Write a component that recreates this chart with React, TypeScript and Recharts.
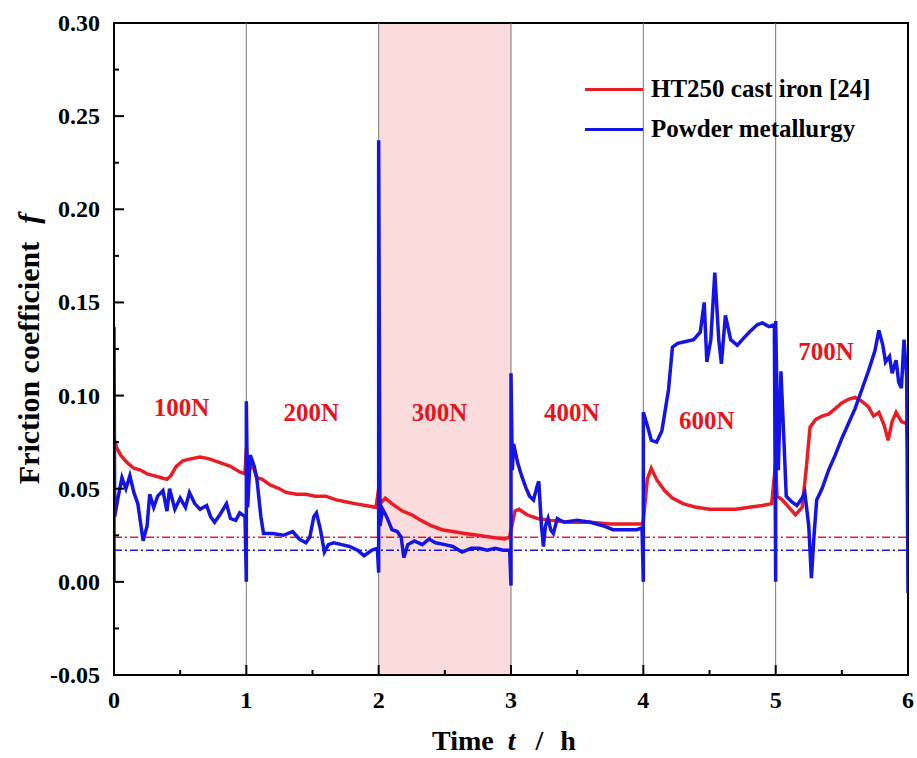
import React from 'react';
import {
  LineChart,
  Line,
  XAxis,
  YAxis,
  ReferenceLine,
  ReferenceArea,
  ReferenceDot,
  Legend,
} from 'recharts';

const SERIF = '"Liberation Serif", "Times New Roman", serif';
const RED = '#ec1c24';
const BLUE = '#1414e6';

// HT250 cast iron [24]
const redTime = [
  0, 0.02, 0.05, 0.1, 0.15, 0.2, 0.25, 0.3, 0.35, 0.4, 0.43, 0.47, 0.52, 0.58, 0.65, 0.72, 0.8, 0.88, 0.95, 0.99,
  1.0, 1.01, 1.05, 1.08, 1.12, 1.18, 1.25, 1.3, 1.38, 1.45, 1.52, 1.6, 1.68, 1.75, 1.82, 1.9, 1.98,
  2.0, 2.01, 2.05, 2.1, 2.18, 2.25, 2.32, 2.4, 2.48, 2.56, 2.65, 2.75, 2.85, 2.95, 2.99,
  3.0, 3.03, 3.06, 3.12, 3.2, 3.3, 3.45, 3.6, 3.75, 3.9, 3.99,
  4.0, 4.03, 4.06, 4.1, 4.16, 4.22, 4.3, 4.4, 4.5, 4.6, 4.7, 4.8, 4.9, 4.97,
  5.0, 5.01, 5.05, 5.1, 5.15, 5.2, 5.23, 5.26, 5.3, 5.35, 5.4, 5.45, 5.5, 5.55, 5.6, 5.65, 5.7, 5.74, 5.78,
  5.82, 5.85, 5.88, 5.91, 5.95, 5.99, 6.0,
];
const redF = [
  0.077, 0.072, 0.068, 0.064, 0.061, 0.06, 0.058, 0.057, 0.056, 0.055, 0.057, 0.062, 0.065, 0.066, 0.067, 0.066, 0.064, 0.062, 0.059, 0.058,
  0.072, 0.06, 0.062, 0.056, 0.055, 0.052, 0.05, 0.048, 0.047, 0.047, 0.046, 0.046, 0.044, 0.043, 0.042, 0.041, 0.04,
  0.05, 0.042, 0.045, 0.042, 0.038, 0.036, 0.033, 0.03, 0.028, 0.027, 0.026, 0.025, 0.024, 0.023, 0.024,
  0.028, 0.038, 0.039, 0.036, 0.034, 0.033, 0.032, 0.032, 0.031, 0.031, 0.031,
  0.033, 0.055, 0.061, 0.055, 0.049, 0.045, 0.042, 0.04, 0.039, 0.039, 0.039, 0.04, 0.041, 0.042,
  0.064, 0.046, 0.044, 0.04, 0.036, 0.04, 0.06, 0.083, 0.087, 0.089, 0.09, 0.093, 0.096, 0.098, 0.099, 0.097, 0.094, 0.089, 0.091,
  0.084, 0.076, 0.086, 0.091, 0.086, 0.085, 0.07,
];

// Powder metallurgy
const blueTime = [
  0, 0, 0.005, 0.03, 0.06, 0.09, 0.12, 0.15, 0.18, 0.22, 0.25, 0.27, 0.3, 0.33, 0.37, 0.4, 0.42, 0.46, 0.5, 0.54,
  0.57, 0.61, 0.65, 0.7, 0.73, 0.76, 0.8, 0.85, 0.88, 0.92, 0.95, 0.99,
  1.0, 1.0, 1.01, 1.03, 1.06, 1.08, 1.11, 1.13, 1.2, 1.28, 1.35, 1.4, 1.45, 1.48, 1.51, 1.53, 1.56, 1.59, 1.62,
  1.66, 1.72, 1.78, 1.84, 1.89, 1.95, 1.99,
  2.0, 2.0, 2.01, 2.03, 2.06, 2.1, 2.14, 2.17, 2.19, 2.22, 2.27, 2.33, 2.38, 2.43, 2.5, 2.56, 2.63, 2.7, 2.76,
  2.82, 2.88, 2.94, 2.99,
  3.0, 3.0, 3.01, 3.02, 3.05, 3.08, 3.11, 3.14, 3.17, 3.2, 3.21, 3.23, 3.245, 3.26, 3.28, 3.3, 3.32, 3.35, 3.4,
  3.5, 3.6, 3.7, 3.77, 3.85, 3.95, 3.99,
  4.0, 4.0, 4.03, 4.06, 4.1, 4.14, 4.19, 4.22, 4.26, 4.32, 4.38, 4.43, 4.46, 4.48, 4.51, 4.54, 4.57, 4.59, 4.62,
  4.66, 4.71, 4.76, 4.8, 4.86, 4.9, 4.95, 4.99,
  5.0, 5.0, 5.02, 5.04, 5.06, 5.08, 5.12, 5.16, 5.2, 5.22, 5.25, 5.27, 5.29, 5.31, 5.35, 5.4, 5.45, 5.5, 5.55,
  5.6, 5.65, 5.7, 5.75, 5.78, 5.81, 5.83, 5.86, 5.88, 5.91, 5.93, 5.95, 5.97, 5.99, 6.0,
];
const blueF = [
  0.0, 0.137, 0.035, 0.045, 0.056, 0.05, 0.057, 0.048, 0.042, 0.022, 0.03, 0.047, 0.04, 0.046, 0.049, 0.038, 0.05, 0.039, 0.045, 0.04,
  0.048, 0.042, 0.039, 0.041, 0.035, 0.032, 0.036, 0.042, 0.034, 0.033, 0.037, 0.035,
  0.0, 0.097, 0.04, 0.068, 0.062, 0.055, 0.035, 0.026, 0.026, 0.025, 0.027, 0.023, 0.021, 0.024, 0.035, 0.037, 0.028, 0.016, 0.02,
  0.021, 0.02, 0.019, 0.017, 0.014, 0.017, 0.018,
  0.005, 0.237, 0.03, 0.039, 0.035, 0.028, 0.027, 0.024, 0.013, 0.02, 0.022, 0.02, 0.023, 0.021, 0.02, 0.019, 0.016, 0.018, 0.018,
  0.017, 0.018, 0.017, 0.017,
  -0.002, 0.112, 0.06, 0.074, 0.064, 0.057, 0.051, 0.046, 0.044, 0.052, 0.054, 0.03, 0.019, 0.03, 0.034, 0.028, 0.026, 0.034, 0.032,
  0.033, 0.032, 0.03, 0.028, 0.028, 0.028, 0.029,
  0.0, 0.091, 0.084, 0.076, 0.075, 0.081, 0.103, 0.126, 0.128, 0.129, 0.13, 0.134, 0.15, 0.118, 0.13, 0.166, 0.13, 0.117, 0.143,
  0.13, 0.127, 0.131, 0.134, 0.138, 0.139, 0.137, 0.138,
  0.0, 0.14, 0.06, 0.113, 0.08, 0.046, 0.043, 0.041, 0.045, 0.048, 0.03, 0.002, 0.025, 0.044, 0.05, 0.06, 0.068, 0.077, 0.085,
  0.093, 0.103, 0.113, 0.124, 0.135, 0.127, 0.118, 0.121, 0.112, 0.119, 0.107, 0.104, 0.13, 0.11, -0.006,
];

const redData = redTime.map((t, i) => ({ t, f: redF[i] }));
const blueData = blueTime.map((t, i) => ({ t, f: blueF[i] }));

// reference (initial) friction levels
const redBase = 0.024;
const blueBase = 0.017;

const loadStages = [1, 2, 3, 4, 5];
const loadLabels = ['100N', '200N', '300N', '400N', '600N', '700N'];
const loadLabelT = [0.51, 1.49, 2.46, 3.46, 4.48, 5.38];
const loadLabelF = [0.094, 0.091, 0.091, 0.091, 0.087, 0.124];

const xTicks = [0, 0.5, 1, 1.5, 2, 2.5, 3, 3.5, 4, 4.5, 5, 5.5, 6];
const yTicks = [-0.05, -0.025, 0, 0.025, 0.05, 0.075, 0.1, 0.125, 0.15, 0.175, 0.2, 0.225, 0.25, 0.275, 0.3];

const isMajorY = (v: number) => Math.abs(v * 20 - Math.round(v * 20)) < 1e-6;

const YTick = (props: any) => {
  const { x, y, payload } = props;
  const major = isMajorY(payload.value);
  return (
    <g>
      <line x1={x} x2={x + (major ? 10 : 5)} y1={y} y2={y} stroke="#000" strokeWidth={2} />
      {major && (
        <text x={x - 14} y={y + 8} textAnchor="end" fontFamily={SERIF} fontWeight={700} fontSize={24} fill="#000">
          {payload.value.toFixed(2)}
        </text>
      )}
    </g>
  );
};

const XTick = (props: any) => {
  const { x, y, payload } = props;
  const major = Number.isInteger(payload.value);
  return (
    <g>
      <line x1={x} x2={x} y1={y} y2={y - (major ? 10 : 5)} stroke="#000" strokeWidth={2} />
      {major && (
        <text x={x} y={y + 33} textAnchor="middle" fontFamily={SERIF} fontWeight={700} fontSize={24} fill="#000">
          {payload.value}
        </text>
      )}
    </g>
  );
};

const renderLegend = (props: any) => (
  <div style={{ fontFamily: SERIF, fontWeight: 700, fontSize: 25, color: '#000' }}>
    {props.payload.map((e: any) => (
      <div key={e.value} style={{ display: 'flex', alignItems: 'center', height: 40 }}>
        <span style={{ display: 'inline-block', width: 58, height: 3, background: e.color, marginRight: 8 }} />
        <span>{e.value}</span>
      </div>
    ))}
  </div>
);

export default function App() {
  return (
    <div style={{ position: 'absolute', left: 0, top: 0, background: '#fff' }}>
      <LineChart width={917} height={758} margin={{ top: 23, right: 9, bottom: 43, left: 54 }}>
        <ReferenceArea x1={2} x2={3} y1={-0.05} y2={0.3} fill="#fbdcdc" fillOpacity={1} stroke="none" />
        {loadStages.map((s) => (
          <ReferenceLine key={s} x={s} stroke="#7a7a7a" strokeWidth={1} />
        ))}
        <ReferenceLine y={redBase} stroke={RED} strokeWidth={1.5} strokeDasharray="8 3 2 3" />
        <ReferenceLine y={blueBase} stroke={BLUE} strokeWidth={1.5} strokeDasharray="8 3 2 3" />
        <XAxis
          dataKey="t"
          type="number"
          domain={[0, 6]}
          ticks={xTicks}
          interval={0}
          allowDataOverflow
          height={40}
          tickSize={0}
          tickMargin={0}
          tickLine={false}
          tick={<XTick />}
          axisLine={{ stroke: '#000', strokeWidth: 2 }}
          label={{
            content: (p: any) => {
              const vb = p.viewBox || { x: 114, y: 675, width: 794 };
              return (
                <text
                  x={vb.x + vb.width / 2 - 79}
                  y={vb.y + 75}
                  textAnchor="start"
                  fontFamily={SERIF}
                  fontWeight={700}
                  fontSize={28}
                  fill="#000"
                >
                  Time
                  <tspan fontStyle="italic" dx={14}>t</tspan>
                  <tspan dx={20}>/</tspan>
                  <tspan dx={17}>h</tspan>
                </text>
              );
            },
          }}
        />
        <YAxis
          type="number"
          domain={[-0.05, 0.3]}
          ticks={yTicks}
          interval={0}
          allowDataOverflow
          width={60}
          tickSize={0}
          tickMargin={0}
          tickLine={false}
          tick={<YTick />}
          axisLine={{ stroke: '#000', strokeWidth: 2 }}
          label={{
            content: (p: any) => {
              const vb = p.viewBox || { y: 23, height: 652 };
              const cy = vb.y + vb.height / 2;
              return (
                <text
                  transform={`translate(39, ${cy}) rotate(-90)`}
                  textAnchor="middle"
                  fontFamily={SERIF}
                  fontWeight={700}
                  fontSize={30}
                  fill="#000"
                >
                  Friction coefficient
                  <tspan fontStyle="italic" dx={18}>f</tspan>
                </text>
              );
            },
          }}
        />
        <ReferenceArea x1={0} x2={6} y1={-0.05} y2={0.3} fill="none" stroke="#000" strokeWidth={2} />
        <Line
          data={redData}
          dataKey="f"
          name="HT250 cast iron [24]"
          type="linear"
          stroke={RED}
          strokeWidth={3.5}
          dot={false}
          isAnimationActive={false}
        />
        <Line
          data={blueData}
          dataKey="f"
          name="Powder metallurgy"
          type="linear"
          stroke={BLUE}
          strokeWidth={3.5}
          dot={false}
          isAnimationActive={false}
        />
        {loadLabels.map((lab, i) => (
          <ReferenceDot
            key={lab}
            x={loadLabelT[i]}
            y={loadLabelF[i]}
            r={0}
            fill="none"
            stroke="none"
            label={{ value: lab, position: 'center', fill: '#e8141c', fontSize: 25, fontWeight: 700, fontFamily: SERIF }}
          />
        ))}
        <Legend
          layout="vertical"
          align="center"
          verticalAlign="middle"
          content={renderLegend}
          wrapperStyle={{ top: 69, left: 585, width: 320 }}
        />
      </LineChart>
    </div>
  );
}
